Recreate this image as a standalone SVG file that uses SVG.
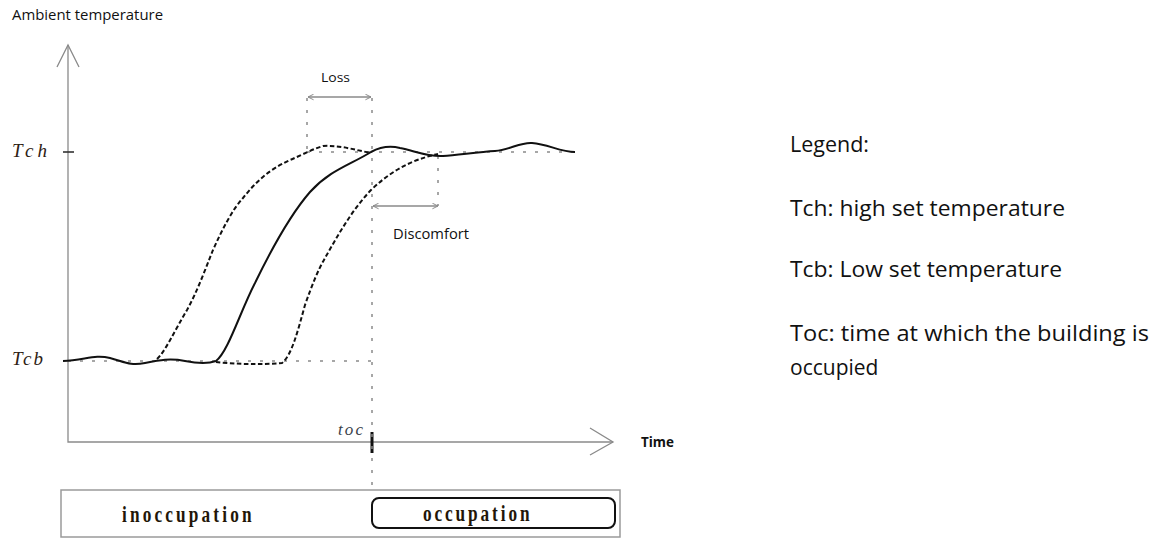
<svg xmlns="http://www.w3.org/2000/svg" width="1161" height="538" viewBox="0 0 1161 538">
<defs>
<style>
.axis{stroke:#8a8a8a;stroke-width:1.3;fill:none}
.dot{stroke:#8a8a8a;stroke-width:1.5;fill:none;stroke-dasharray:3 9}
.solid{stroke:#111;stroke-width:2;fill:none;stroke-linejoin:round}
.dash{stroke:#111;stroke-width:2;fill:none;stroke-dasharray:4.5 2.5}
.dim{stroke:#8a8a8a;stroke-width:1.3;fill:none}
.sans{font-family:"Open Sans","Liberation Sans",sans-serif;fill:#111}
.ital{font-family:"Liberation Serif","DejaVu Serif",serif;font-style:italic;fill:#2e2114}
.box{font-family:"Liberation Serif","DejaVu Serif",serif;font-weight:bold;fill:#231608}
</style>
<marker id="ah" viewBox="0 0 10 10" refX="9" refY="5" markerWidth="7" markerHeight="7" orient="auto-start-reverse" markerUnits="userSpaceOnUse">
<path d="M1,1 L9,5 L1,9" fill="none" stroke="#8a8a8a" stroke-width="1.4"/>
</marker>
</defs>
<rect width="1161" height="538" fill="#fff"/>

<g id="axes">
<path class="axis" d="M68,45 L68,442 L613,442"/>
<path class="axis" d="M57,67 L68,45 L79,67"/>
<path class="axis" d="M590,428 L613,442 L590,455"/>
<line x1="63" y1="152" x2="74" y2="152" stroke="#333" stroke-width="1.6"/>
<line x1="372" y1="432" x2="372" y2="453" stroke="#111" stroke-width="3"/>
</g>

<g id="labels">
<text class="sans" x="12" y="20" font-size="14" textLength="151" lengthAdjust="spacingAndGlyphs">Ambient temperature</text>
<text class="ital" x="12" y="157" font-size="19" textLength="35" lengthAdjust="spacing">Tch</text>
<text class="ital" x="12" y="365" font-size="19" textLength="31" lengthAdjust="spacing">Tcb</text>
<text class="ital" x="338" y="435" font-size="17" textLength="25" lengthAdjust="spacing" fill="#3a3f4a" style="fill:#3a3f4a">toc</text>
<text class="sans" x="641" y="447" font-size="14" font-weight="bold" textLength="33" lengthAdjust="spacingAndGlyphs">Time</text>
<text class="sans" x="321" y="82" font-size="13.5" textLength="29" lengthAdjust="spacingAndGlyphs">Loss</text>
<text class="sans" x="393" y="239" font-size="14.5" textLength="76" lengthAdjust="spacingAndGlyphs">Discomfort</text>
</g>

<g id="guides">
<line class="dot" x1="307" y1="152" x2="575" y2="152"/>
<line class="dot" x1="68" y1="361" x2="372" y2="361"/>
<line class="dot" x1="307" y1="98" x2="307" y2="152"/>
<line class="dot" x1="372" y1="98" x2="372" y2="490"/>
<line class="dot" x1="438" y1="156" x2="438" y2="206"/>
</g>

<g id="connectors">
<line class="dim" x1="308" y1="97" x2="371" y2="97" marker-start="url(#ah)" marker-end="url(#ah)"/>
<line class="dim" x1="373" y1="206" x2="438" y2="206" marker-start="url(#ah)" marker-end="url(#ah)"/>
</g>

<g id="curves">
<path class="solid" d="M63,361 C85,360 95,354 110,358 S130,366 145,363 S170,358 185,361 S208,364 216,361 C228,352 240,312 255,283 C272,248 290,215 310,192 C330,170 350,165 371,152 C382,146 392,146 400,148 C415,151 428,157 443,156 C458,155 478,152 495,151 C510,150 520,142 532,143 C548,144 560,152 575,152"/>
<path class="dash" d="M157,359 C165,352 175,330 187,310 C197,292 205,270 213,250 C222,230 232,210 243,198 C255,183 268,170 290,160 C300,156 310,150 323,146 C340,145 355,150 371,153"/>
<path class="dash" d="M216,362 C235,364 260,365 282,363 C292,355 298,330 305,305 C312,285 318,270 325,258 C338,235 352,210 371,190 C390,172 410,160 438,154"/>
</g>

<g id="timeline">
<rect x="61" y="490" width="559" height="47" fill="none" stroke="#9a9a9a" stroke-width="1.5"/>
<rect x="372" y="498" width="243" height="30" rx="7" fill="none" stroke="#111" stroke-width="2"/>
<text class="box" transform="translate(122,522) scale(0.72,1)" font-size="24" textLength="180" lengthAdjust="spacing">inoccupation</text>
<text class="box" transform="translate(423,521) scale(0.72,1)" font-size="24" textLength="148" lengthAdjust="spacing">occupation</text>
</g>

<g id="legend">
<text class="sans" x="790" y="152" font-size="21" textLength="79" lengthAdjust="spacingAndGlyphs">Legend:</text>
<text class="sans" x="790" y="216" font-size="21" textLength="275" lengthAdjust="spacingAndGlyphs">Tch: high set temperature</text>
<text class="sans" x="790" y="277" font-size="21" textLength="272" lengthAdjust="spacingAndGlyphs">Tcb: Low set temperature</text>
<text class="sans" x="790" y="341" font-size="21" textLength="359" lengthAdjust="spacingAndGlyphs">Toc: time at which the building is</text>
<text class="sans" x="790" y="375" font-size="21">occupied</text>
</g>
</svg>
